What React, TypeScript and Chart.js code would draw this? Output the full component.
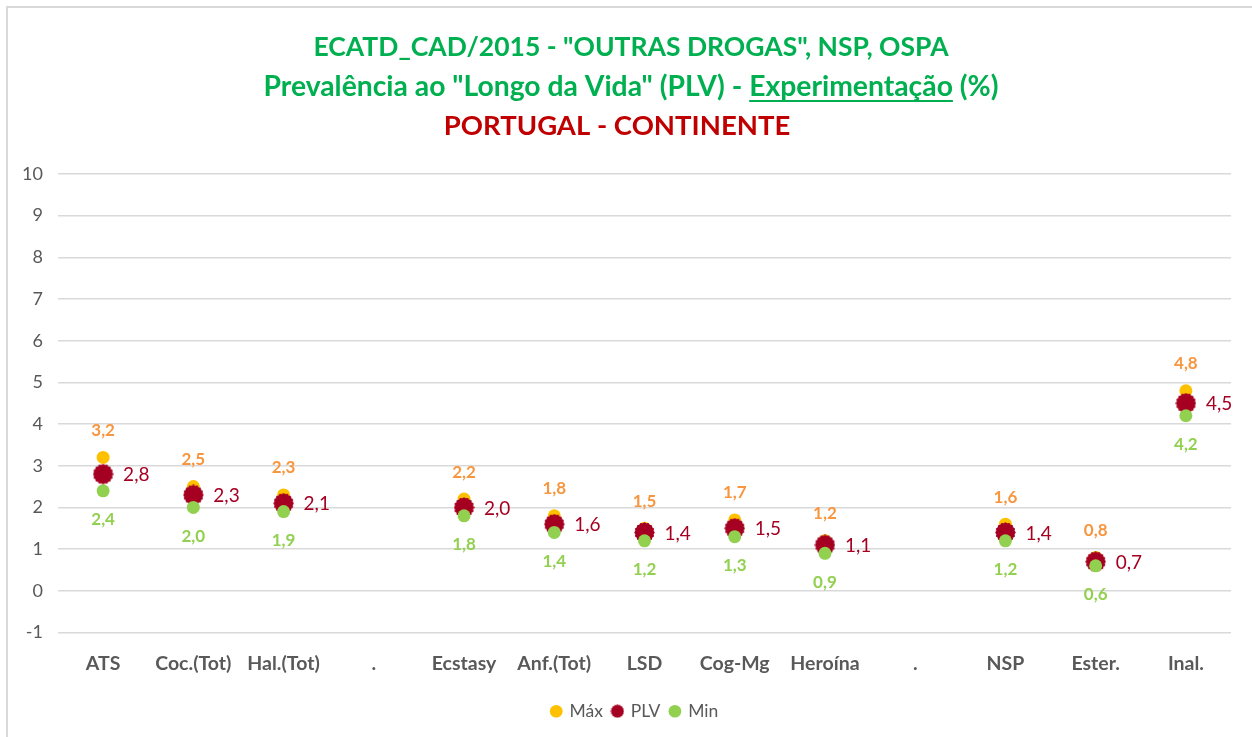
import React, { useEffect, useRef } from "react";
import { Chart, registerables } from "chart.js";

Chart.register(...registerables);

const categories = ["ATS", "Coc.(Tot)", "Hal.(Tot)", ".", "Ecstasy", "Anf.(Tot)", "LSD", "Cog-Mg", "Heroína", ".", "NSP", "Ester.", "Inal."];
const maxValues = [3.2, 2.5, 2.3, null, 2.2, 1.8, 1.5, 1.7, 1.2, null, 1.6, 0.8, 4.8];
const plvValues = [2.8, 2.3, 2.1, null, 2.0, 1.6, 1.4, 1.5, 1.1, null, 1.4, 0.7, 4.5];
const minValues = [2.4, 2.0, 1.9, null, 1.8, 1.4, 1.2, 1.3, 0.9, null, 1.2, 0.6, 4.2];
const seriesNames = ["Máx", "PLV", "Min"];
const titleLine1 = 'ECATD_CAD/2015 - "OUTRAS DROGAS", NSP, OSPA';
const titleLine2a = 'Prevalência ao "Longo da Vida" (PLV) - ';
const titleLine2b = "Experimentação";
const titleLine2c = " (%)";
const titleLine3 = "PORTUGAL - CONTINENTE";

const FONT = "Lato, 'Open Sans', sans-serif";
const GREEN_T = "#00B050";
const RED_T = "#C00000";
const MAX_C = "#FFC000";
const MAX_L = "#F8963F";
const PLV_C = "#A50021";
const MIN_C = "#92D050";

function makeBurst(size: number, color: string) {
  const c = document.createElement("canvas");
  c.width = size;
  c.height = size;
  const ctx = c.getContext("2d")!;
  const cx = size / 2;
  const R = size / 2 - 0.3;
  const n = 16;
  ctx.beginPath();
  for (let i = 0; i <= 720; i++) {
    const t = (i / 720) * Math.PI * 2;
    const r = R - R * 0.08 * (0.5 - 0.5 * Math.cos(n * t));
    const x = cx + r * Math.cos(t);
    const y = cx + r * Math.sin(t);
    if (i === 0) ctx.moveTo(x, y);
    else ctx.lineTo(x, y);
  }
  ctx.closePath();
  ctx.fillStyle = color;
  ctx.fill();
  return c;
}

function fmt(v: number) {
  return v.toFixed(1).replace(".", ",");
}

const decorPlugin = {
  id: "decor",
  afterLayout(chart: any) {
    if (chart.legend) {
      chart.legend.left += 39;
    }
  },
  beforeDraw(chart: any) {
    const ctx = chart.ctx;
    ctx.save();
    ctx.fillStyle = "#ffffff";
    ctx.fillRect(0, 0, chart.width, chart.height);
    ctx.fillStyle = "#D9D9D9";
    ctx.fillRect(6, 6, chart.width - 6, 2);
    ctx.fillRect(6, 6, 2, chart.height - 6);
    ctx.restore();
  },
  afterDraw(chart: any) {
    const ctx = chart.ctx;
    const cx = 631;
    ctx.save();
    ctx.textBaseline = "middle";
    ctx.font = `bold 26.5px ${FONT}`;
    ctx.fillStyle = GREEN_T;
    ctx.textAlign = "center";
    ctx.fillText(titleLine1, cx, 47);
    ctx.font = `bold 28.3px ${FONT}`;
    const wa = ctx.measureText(titleLine2a).width;
    const wb = ctx.measureText(titleLine2b).width;
    const wc = ctx.measureText(titleLine2c).width;
    const total = wa + wb + wc;
    const x0 = cx - total / 2;
    ctx.textAlign = "left";
    ctx.fillText(titleLine2a, x0, 87);
    ctx.fillText(titleLine2b, x0 + wa, 87);
    ctx.fillText(titleLine2c, x0 + wa + wb, 87);
    ctx.fillRect(x0 + wa, 87 + 13, wb, 2);
    ctx.font = `bold 27.5px ${FONT}`;
    ctx.textAlign = "center";
    ctx.fillStyle = RED_T;
    ctx.fillText(titleLine3, cx - 14, 126);
    ctx.restore();
  },
};

const labelsPlugin = {
  id: "pointLabels",
  afterDatasetsDraw(chart: any) {
    const ctx = chart.ctx;
    ctx.save();
    chart.data.datasets.forEach((ds: any, i: number) => {
      const meta = chart.getDatasetMeta(i);
      const cfg = ds.labelCfg;
      if (!cfg) return;
      meta.data.forEach((pt: any, j: number) => {
        const v = ds.data[j];
        if (v === null || v === undefined) return;
        ctx.font = cfg.font;
        ctx.fillStyle = cfg.color;
        ctx.textBaseline = "middle";
        if (cfg.pos === "top") {
          ctx.textAlign = "center";
          ctx.fillText(fmt(v), pt.x, pt.y - 27);
        } else if (cfg.pos === "bottom") {
          ctx.textAlign = "center";
          ctx.fillText(fmt(v), pt.x, pt.y + 29);
        } else {
          ctx.textAlign = "left";
          ctx.fillText(fmt(v), pt.x + 20, pt.y + 1);
        }
      });
    });
    ctx.restore();
  },
};

export default function App() {
  const ref = useRef<HTMLCanvasElement>(null);
  useEffect(() => {
    if (!ref.current) return;
    const burst = makeBurst(21, PLV_C);
    const burstSmall = makeBurst(14, PLV_C);
    const chart = new Chart(ref.current, {
      type: "line",
      data: {
        labels: categories,
        datasets: [
          {
            label: seriesNames[0],
            data: maxValues,
            showLine: false,
            pointStyle: "circle",
            pointRadius: 6.5,
            pointBackgroundColor: MAX_C,
            pointBorderWidth: 0,
            borderColor: MAX_C,
            backgroundColor: MAX_C,
            order: 2,
            labelCfg: { pos: "top", color: MAX_L, font: `bold 17px ${FONT}` },
          } as any,
          {
            label: seriesNames[1],
            data: plvValues,
            showLine: false,
            pointStyle: burst,
            pointRadius: 11,
            pointBackgroundColor: PLV_C,
            pointBorderWidth: 0,
            borderColor: PLV_C,
            backgroundColor: PLV_C,
            order: 1,
            labelCfg: { pos: "right", color: PLV_C, font: `19px ${FONT}` },
          } as any,
          {
            label: seriesNames[2],
            data: minValues,
            showLine: false,
            pointStyle: "circle",
            pointRadius: 6.5,
            pointBackgroundColor: MIN_C,
            pointBorderWidth: 0,
            borderColor: MIN_C,
            backgroundColor: MIN_C,
            order: 0,
            labelCfg: { pos: "bottom", color: MIN_C, font: `bold 17px ${FONT}` },
          } as any,
        ],
      },
      options: {
        responsive: false,
        animation: false,
        layout: { padding: { top: 174, left: 0, right: 21, bottom: 7 } },
        plugins: {
          tooltip: { enabled: false },
          legend: {
            position: "bottom",
            labels: {
              usePointStyle: true,
              boxWidth: 9,
              boxHeight: 9,
              padding: 10,
              color: "#595959",
              font: { family: FONT, size: 17.5 },
              sort: (a: any, b: any) => a.datasetIndex - b.datasetIndex,
              generateLabels: (chart: any) => {
                const items = Chart.defaults.plugins.legend.labels.generateLabels(chart);
                items.forEach((it: any) => {
                  if (it.datasetIndex === 1) it.pointStyle = burstSmall;
                  it.lineWidth = 0;
                  it.strokeStyle = "rgba(0,0,0,0)";
                });
                return items;
              },
            },
          },
        },
        scales: {
          x: {
            offset: true,
            grid: { display: false, drawTicks: false },
            border: { display: false },
            ticks: {
              padding: 20,
              color: "#595959",
              font: { family: FONT, size: 19.5, weight: "bold" },
              maxRotation: 0,
              autoSkip: false,
            },
            afterFit: (s: any) => {
              s.height = 60;
            },
          },
          y: {
            min: -1,
            max: 10,
            grid: { color: "#D9D9D9", lineWidth: 1.5, drawTicks: false },
            border: { display: false },
            ticks: {
              stepSize: 1,
              padding: 15,
              color: "#595959",
              font: { family: FONT, size: 18 },
            },
            afterFit: (s: any) => {
              s.width = 58;
            },
          },
        },
      } as any,
      plugins: [decorPlugin, labelsPlugin],
    });
    return () => chart.destroy();
  }, []);
  return (
    <div style={{ position: "fixed", left: 0, top: 0, width: 1252, height: 737, background: "#fff", overflow: "hidden" }}>
      <canvas ref={ref} width={1252} height={737} style={{ display: "block" }} />
    </div>
  );
}
